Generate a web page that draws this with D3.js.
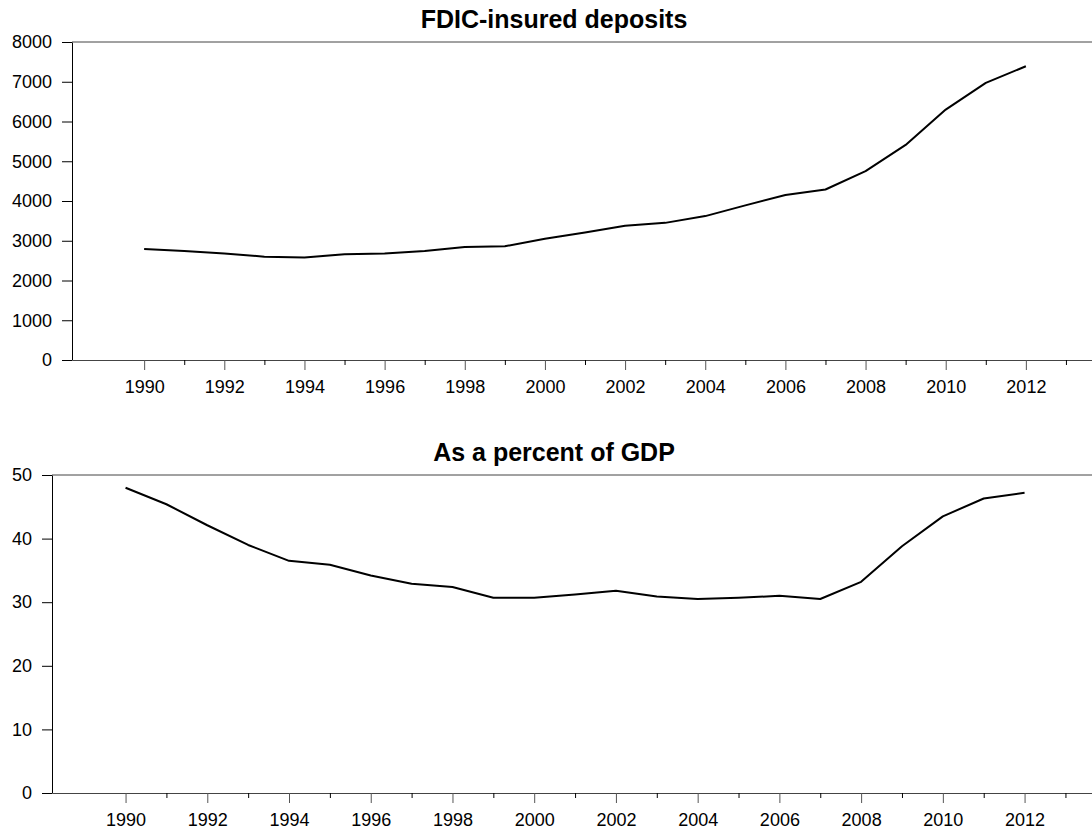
<!DOCTYPE html>
<html>
<head>
<meta charset="utf-8">
<script src="https://cdn.jsdelivr.net/npm/d3@7"></script>
<style>
  body { margin: 0; background: #fff; }
  text { font-family: "Liberation Sans", Arial, sans-serif; }
</style>
</head>
<body>
<div id="chart"></div>
<script>
// Data
var years = d3.range(1990, 2013);
var deposits = [2790, 2740, 2680, 2600, 2580, 2660, 2680, 2740, 2840, 2860, 3050, 3210,
                3380, 3450, 3620, 3890, 4150, 4290, 4750, 5410, 6300, 6970, 7390];
var pctGDP = [48.0, 45.4, 42.1, 39.0, 36.5, 35.9, 34.2, 32.9, 32.4, 30.7, 30.7, 31.2,
              31.8, 30.9, 30.5, 30.7, 31.0, 30.5, 33.2, 38.8, 43.5, 46.3, 47.2];
var depositTicks = [0, 1000, 2000, 3000, 4000, 5000, 6000, 7000, 8000];
var pctTicks = [0, 10, 20, 30, 40, 50];
var yearTicks = d3.range(1990, 2013, 2);
var minorTicks = d3.range(1991, 2014, 2);

var svgWidth = 1092;
var svgHeight = 834;

var svg = d3.select("#chart").append("svg")
    .attr("width", svgWidth)
    .attr("height", svgHeight);

function drawPanel(opts) {
    var x = d3.scaleLinear()
        .domain([1988.2, 2013.65])
        .range([opts.left, svgWidth]);

    var y = d3.scaleLinear()
        .domain(opts.yDomain)
        .range([opts.bottom, opts.top]);

    var g = svg.append("g");

    // title
    g.append("text")
        .attr("x", 554)
        .attr("y", opts.top - 14)
        .attr("text-anchor", "middle")
        .style("font-size", "25px")
        .style("font-weight", "bold")
        .text(opts.title);

    // top border
    g.append("line")
        .attr("x1", opts.left).attr("x2", svgWidth)
        .attr("y1", opts.top).attr("y2", opts.top)
        .attr("stroke", "#444")
        .attr("stroke-width", 1);

    // y axis
    var leftAxis = d3.axisLeft(y)
        .tickValues(opts.yTicks)
        .tickFormat(d3.format("d"))
        .tickSize(10)
        .tickSizeOuter(0)
        .tickPadding(10);
    var yAxis = g.append("g")
        .attr("transform", `translate(${opts.left},0)`)
        .call(leftAxis);
    yAxis.selectAll("text").style("font-size", "18px").attr("fill", "#000");

    // x axis major
    var bottomAxis = d3.axisBottom(x)
        .tickValues(yearTicks)
        .tickFormat(d3.format("d"))
        .tickSize(10)
        .tickSizeOuter(0)
        .tickPadding(10);
    var xAxis = g.append("g")
        .attr("transform", `translate(0,${opts.bottom})`)
        .call(bottomAxis);
    xAxis.selectAll("text").style("font-size", "18px").attr("fill", "#000");
    xAxis.select(".domain").attr("stroke", "#444");
    xAxis.selectAll(".tick line").attr("stroke", "#555");

    // x axis minor
    var minorAxis = d3.axisBottom(x)
        .tickValues(minorTicks)
        .tickFormat("")
        .tickSize(5)
        .tickSizeOuter(0);
    var mAxis = g.append("g")
        .attr("transform", `translate(0,${opts.bottom})`)
        .call(minorAxis);
    mAxis.select(".domain").remove();

    // line
    var line = d3.line()
        .x((d, i) => x(years[i]))
        .y(d => y(d));

    g.append("path")
        .datum(opts.values)
        .attr("fill", "none")
        .attr("stroke", "#000")
        .attr("stroke-width", 2)
        .attr("stroke-linejoin", "round")
        .attr("d", line);
}

drawPanel({
    title: "FDIC-insured deposits",
    values: deposits,
    yDomain: [0, 8000],
    yTicks: depositTicks,
    left: 72,
    top: 42,
    bottom: 360
});

drawPanel({
    title: "As a percent of GDP",
    values: pctGDP,
    yDomain: [0, 50],
    yTicks: pctTicks,
    left: 52,
    top: 475,
    bottom: 793
});
</script>
</body>
</html>
